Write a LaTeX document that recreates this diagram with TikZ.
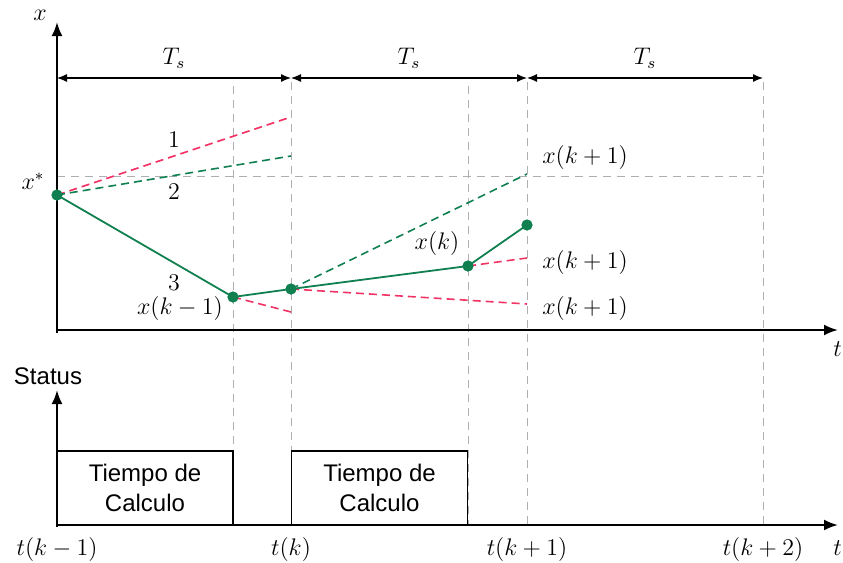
\documentclass[tikz,border=0pt]{standalone}
\usepackage{fontspec}
\newfontfamily\arialf{Liberation Sans}
\usetikzlibrary{arrows.meta}
\definecolor{mygreen}{RGB}{16,128,80}
\definecolor{myred}{RGB}{240,50,100}
\definecolor{mygray}{RGB}{175,175,175}
\begin{document}
\begin{tikzpicture}[x=0.5pt,y=-0.5pt,
  font=\fontsize{12}{14}\selectfont,
  axis/.style={line width=1.1pt,-{Latex[length=7pt,width=5.5pt]}},
  dimline/.style={line width=0.6pt,{Latex[length=5pt,width=4pt]}-{Latex[length=5pt,width=4pt]}},
  guide/.style={mygray,line width=0.5pt,dash pattern=on 4pt off 3pt},
  gline/.style={mygreen,line width=0.9pt},
  gdash/.style={mygreen,line width=0.8pt,dash pattern=on 4pt off 2.5pt},
  rdash/.style={myred,line width=0.8pt,dash pattern=on 4pt off 2.5pt},
  dot/.style={circle,fill=mygreen,inner sep=0pt,minimum size=5.5pt},
  calc/.style={draw,line width=0.6pt,minimum width=88pt,minimum height=37pt,inner sep=0pt,
    align=center,font=\arialf\fontsize{12}{15}\selectfont}]
\useasboundingbox (0,0) rectangle (843,563);
% axes coordinates
\coordinate (o1) at (57,330);
\coordinate (ytop) at (57,22);
\coordinate (xend) at (838,330);
\coordinate (o2) at (57,525);
\coordinate (stop) at (57,390);
\coordinate (x2end) at (838,525);
% guide lines
\foreach \n/\xx/\yy in {a/233/86,b/291/82,c/468/86,d/527/82,e/763/82}{
  \coordinate (g\n t) at (\xx,\yy);
  \coordinate (g\n b) at (\xx,525);
  \draw[guide] (g\n t) -- (g\n b);
}
\coordinate (xs0) at (57,176);
\coordinate (xs1) at (763,176);
\draw[guide] (xs0) -- (xs1);
% axes
\draw[axis] (57,333) -- (ytop);
\draw[axis] (o1) -- (xend);
\draw[axis] (57,527) -- (stop);
\draw[axis] (o2) -- (x2end);
\node (xlab) at (40,15) {$x$};
\node[anchor=west,inner sep=0pt] (tlab1) at (833,349) {$t$};
\node (stlab) at (48,376) {\arialf Status};
\node[anchor=west,inner sep=0pt] (tlab2) at (833,548) {$t$};
\node (xstar) at (33,181) {$x^{*}$};
% dimension arrows
\coordinate (d0) at (57,78);
\coordinate (d1) at (291,78);
\coordinate (d2) at (527,78);
\coordinate (d3) at (763,78);
\draw[dimline] (d0) -- (d1);
\draw[dimline] (d1) -- (d2);
\draw[dimline] (d2) -- (d3);
\node (ts1) at (174,58) {$T_s$};
\node (ts2) at (409,58) {$T_s$};
\node (ts3) at (645,58) {$T_s$};
% points
\node[dot] (p0) at (57,195) {};
\node[dot] (p1) at (233,297) {};
\node[dot] (p2) at (291,289) {};
\node[dot] (p3) at (468,266) {};
\node[dot] (p4) at (527,225) {};
\coordinate (e1) at (291,117);
\coordinate (e2) at (291,156);
\coordinate (e3) at (291,312);
\coordinate (e4) at (527,174);
\coordinate (e5) at (527,304);
\coordinate (e6) at (527,258);
\draw[rdash] (p0.center) -- (e1);
\draw[gdash] (p0.center) -- (e2);
\draw[rdash] (p1.center) -- (e3);
\draw[gdash] (p2.center) -- (e4);
\draw[rdash] (p2.center) -- (e5);
\draw[rdash] (p3.center) -- (e6);
\draw[gline] (p0.center) -- (p1.center) -- (p2.center) -- (p3.center) -- (p4.center);
\node[dot] at (p0) {};
\node[dot] at (p1) {};
\node[dot] at (p2) {};
\node[dot] at (p3) {};
\node[dot] at (p4) {};
% labels
\node (l1) at (174,140) {1};
\node (l2) at (174,192) {2};
\node (l3) at (174,283) {3};
\node (lxkm1) at (180,308) {$x(k-1)$};
\node (lxk) at (437,243) {$x(k)$};
\node (lxa) at (585,157) {$x(k+1)$};
\node (lxb) at (585,262) {$x(k+1)$};
\node (lxc) at (585,308) {$x(k+1)$};
% status boxes
\node[calc] (b1) at (145,488) {Tiempo de\\Calculo};
\node[calc] (b2) at (379.5,488) {Tiempo de\\Calculo};
% time labels
\node (t0) at (57,549) {$t(k-1)$};
\node (t1) at (291,549) {$t(k)$};
\node (t2) at (527,549) {$t(k+1)$};
\node (t3) at (763,549) {$t(k+2)$};
\end{tikzpicture}
\end{document}
